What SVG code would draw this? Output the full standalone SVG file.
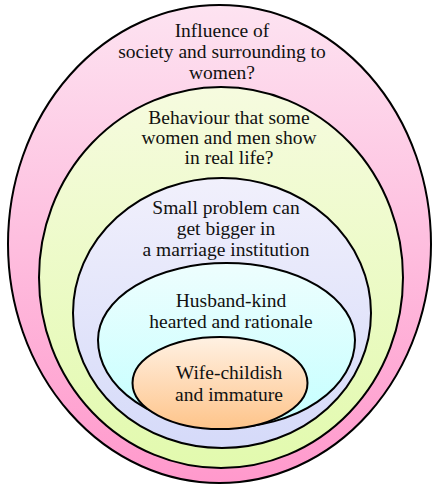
<svg xmlns="http://www.w3.org/2000/svg" width="433" height="487" viewBox="0 0 433 487">
<defs>
<linearGradient id="gPink" x1="0" y1="0" x2="0" y2="1"><stop offset="0" stop-color="#fde3f1"/><stop offset="1" stop-color="#ff99cc"/></linearGradient>
<linearGradient id="gGreen" x1="0" y1="0" x2="0" y2="1"><stop offset="0" stop-color="#f6fbdf"/><stop offset="1" stop-color="#e2faae"/></linearGradient>
<linearGradient id="gLav" x1="0" y1="0" x2="0" y2="1"><stop offset="0" stop-color="#f1f0fc"/><stop offset="1" stop-color="#d5daf9"/></linearGradient>
<linearGradient id="gCyan" x1="0" y1="0" x2="0" y2="1"><stop offset="0" stop-color="#eefefe"/><stop offset="1" stop-color="#c4ffff"/></linearGradient>
<linearGradient id="gOrange" x1="0" y1="0" x2="0" y2="1"><stop offset="0" stop-color="#fff1e3"/><stop offset="1" stop-color="#fec48a"/></linearGradient>
</defs>
<style>
.shape{stroke:#000;stroke-width:2}
.t{font-family:"Liberation Serif","Times New Roman",serif;font-size:19.5px;fill:#111;text-anchor:middle}
</style>
<g id="society">
<ellipse class="shape" cx="219.5" cy="244" rx="211.5" ry="239" fill="url(#gPink)"/>
<text class="t" x="222" y="37">Influence of</text>
<text class="t" x="222" y="58">society and surrounding to</text>
<text class="t" x="222" y="79">women?</text>
</g>
<g id="behaviour">
<ellipse class="shape" cx="221" cy="277.5" rx="182" ry="190.5" fill="url(#gGreen)"/>
<text class="t" x="229" y="124">Behaviour that some</text>
<text class="t" x="229" y="144">women and men show</text>
<text class="t" x="229" y="164">in real life?</text>
</g>
<g id="problem">
<ellipse class="shape" cx="222" cy="313" rx="149" ry="135" fill="url(#gLav)"/>
<text class="t" x="226" y="214">Small problem can</text>
<text class="t" x="226" y="235">get bigger in</text>
<text class="t" x="226" y="256">a marriage institution</text>
</g>
<g id="husband">
<path class="shape" d="M98,340 A128.5,77 0 0 1 355,340 A128.5,87.5 0 0 1 98,340 Z" fill="url(#gCyan)"/>
<text class="t" x="231" y="307">Husband-kind</text>
<text class="t" x="231" y="328">hearted and rationale</text>
</g>
<g id="wife">
<ellipse class="shape" cx="220" cy="383" rx="87.5" ry="46" fill="url(#gOrange)"/>
<text class="t" x="229" y="379">Wife-childish</text>
<text class="t" x="229" y="401">and immature</text>
</g>
<g id="connectors"/>
</svg>
